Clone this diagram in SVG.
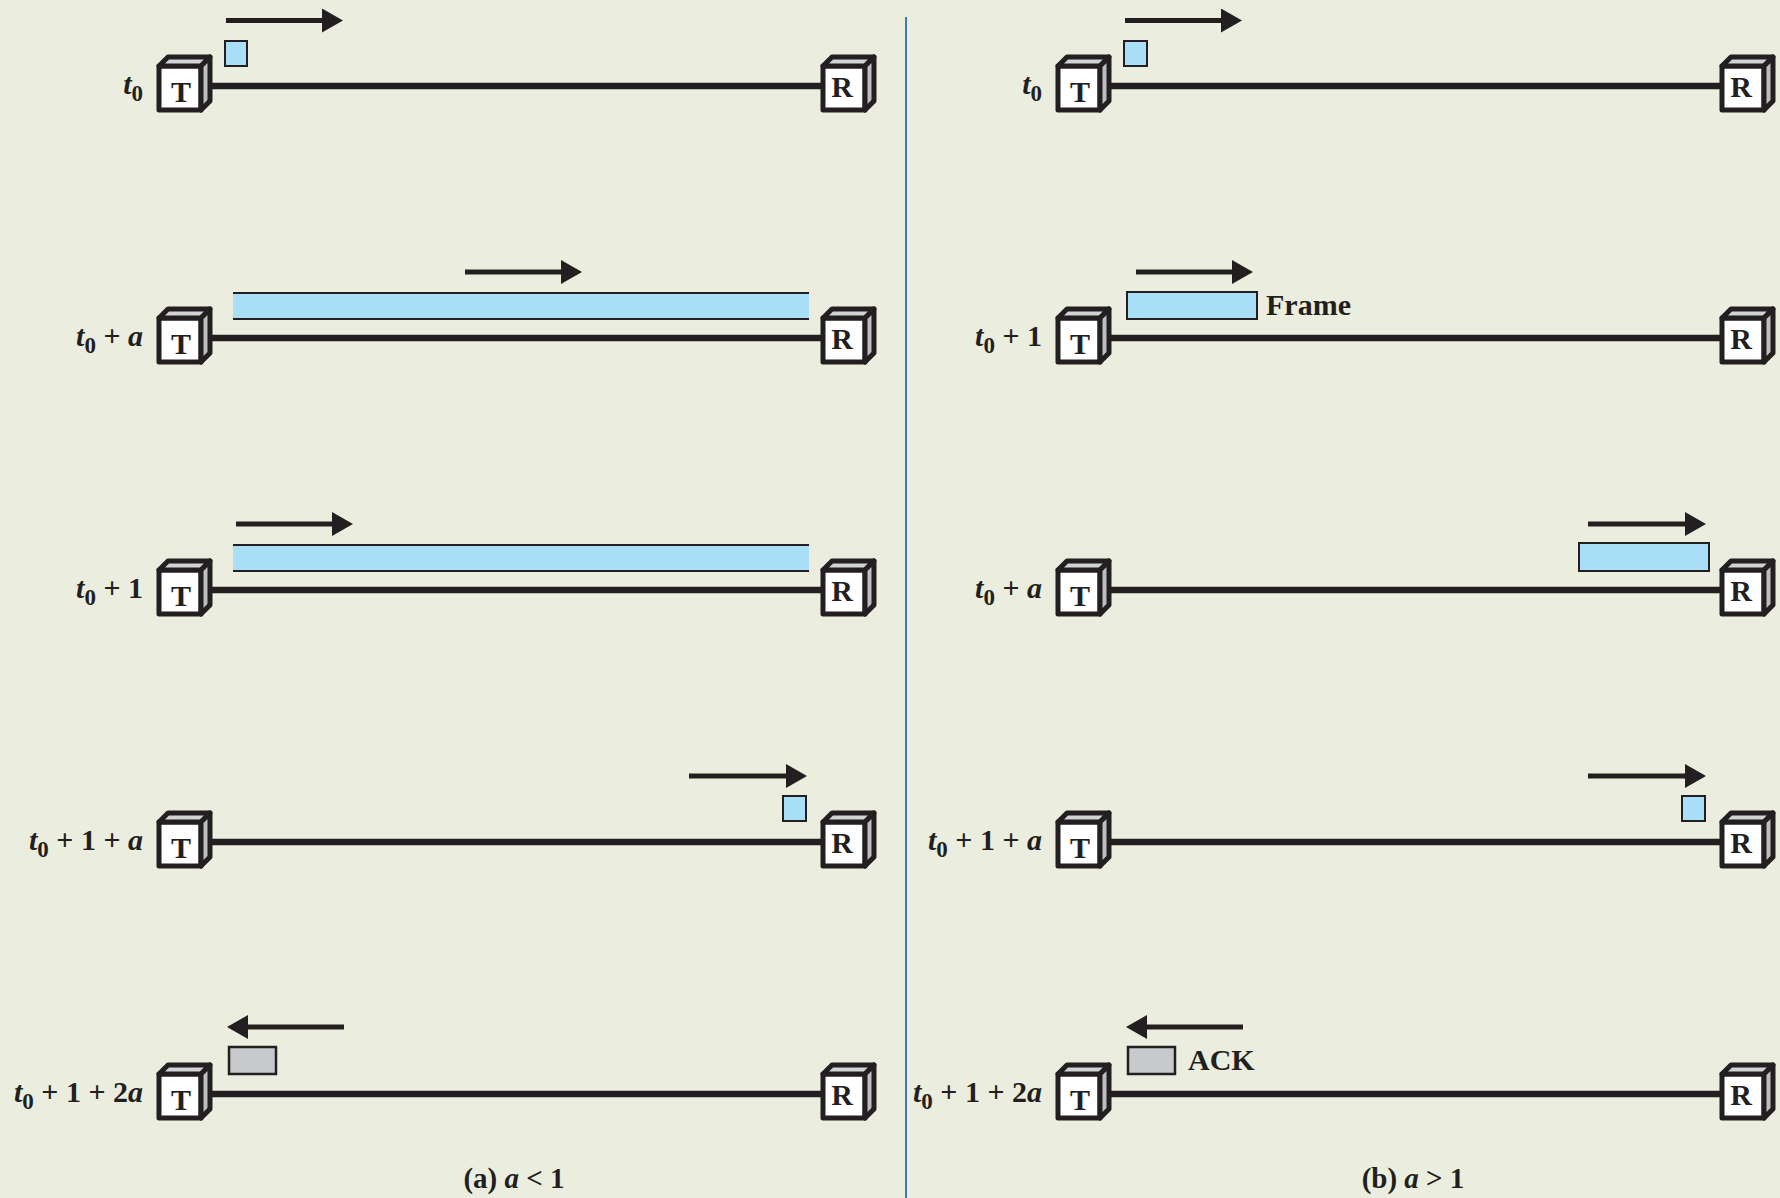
<svg xmlns="http://www.w3.org/2000/svg" width="1780" height="1198" viewBox="0 0 1780 1198">
<defs>
<style>
.bg{fill:#ebeedf}
.lnk{stroke:#231f20;stroke-width:6.5;fill:none}
.arr{stroke:#231f20;stroke-width:5;fill:none}
.front{fill:#ffffff;stroke:#231f20;stroke-width:5;stroke-linejoin:round}
.topf{fill:#d1d3d4;stroke:#231f20;stroke-width:5;stroke-linejoin:round}
.side{fill:#bcbec0;stroke:#231f20;stroke-width:5;stroke-linejoin:round}
.box{font-family:"Liberation Serif","Times New Roman",serif;font-weight:bold;font-size:30px;fill:#231f20;text-anchor:middle}
.lbl{font-family:"Liberation Serif","Times New Roman",serif;font-weight:bold;font-size:30px;fill:#231f20;text-anchor:end}
.cap{font-family:"Liberation Serif","Times New Roman",serif;font-weight:bold;font-size:29px;fill:#231f20;text-anchor:middle}
.tag{font-family:"Liberation Serif","Times New Roman",serif;font-weight:bold;font-size:30px;fill:#231f20}
.i{font-style:italic}
.sub{font-size:23px}
.fr{fill:#a8dff7;stroke:#231f20;stroke-width:2}
.frl{fill:#a8dff7}
.frb{stroke:#231f20;stroke-width:2;fill:none}
.ack{fill:#c8c9cb;stroke:#231f20;stroke-width:2.5}
</style>
<marker id="ah" markerUnits="userSpaceOnUse" markerWidth="21" markerHeight="24" refX="0" refY="12" orient="auto" viewBox="0 0 21 24">
<path d="M0,0 L21,12 L0,24 Z" fill="#231f20"/>
</marker>
<g id="cube">
<rect class="front" x="2" y="-20" width="42" height="44"/>
<path class="topf" d="M2,-20 L11,-29 L53,-29 L44,-20 Z"/>
<path class="side" d="M44,-20 L53,-29 L53,15 L44,24 Z"/>
</g>
</defs>
<rect class="bg" x="0" y="0" width="1780" height="1198"/>
<line x1="906" y1="17" x2="906" y2="1198" stroke="#3d7cc0" stroke-width="2"/>

<g id="connectors">
<line class="lnk" x1="208" y1="86" x2="823" y2="86"/>
<line class="lnk" x1="208" y1="338" x2="823" y2="338"/>
<line class="lnk" x1="208" y1="590" x2="823" y2="590"/>
<line class="lnk" x1="208" y1="842" x2="823" y2="842"/>
<line class="lnk" x1="208" y1="1094" x2="823" y2="1094"/>
<line class="lnk" x1="1107" y1="86" x2="1722" y2="86"/>
<line class="lnk" x1="1107" y1="338" x2="1722" y2="338"/>
<line class="lnk" x1="1107" y1="590" x2="1722" y2="590"/>
<line class="lnk" x1="1107" y1="842" x2="1722" y2="842"/>
<line class="lnk" x1="1107" y1="1094" x2="1722" y2="1094"/>
<line class="arr" x1="226" y1="20.5" x2="322" y2="20.5" marker-end="url(#ah)"/>
<line class="arr" x1="465" y1="272" x2="561" y2="272" marker-end="url(#ah)"/>
<line class="arr" x1="236" y1="524" x2="332" y2="524" marker-end="url(#ah)"/>
<line class="arr" x1="689" y1="776" x2="786" y2="776" marker-end="url(#ah)"/>
<line class="arr" x1="344" y1="1027" x2="248" y2="1027" marker-end="url(#ah)"/>
<line class="arr" x1="1125" y1="20.5" x2="1221" y2="20.5" marker-end="url(#ah)"/>
<line class="arr" x1="1136" y1="272" x2="1232" y2="272" marker-end="url(#ah)"/>
<line class="arr" x1="1588" y1="524" x2="1685" y2="524" marker-end="url(#ah)"/>
<line class="arr" x1="1588" y1="776" x2="1685" y2="776" marker-end="url(#ah)"/>
<line class="arr" x1="1243" y1="1027" x2="1147" y2="1027" marker-end="url(#ah)"/>
</g>

<g id="frames">
<rect class="fr" x="225" y="41" width="22" height="25"/>
<rect class="frl" x="233" y="292" width="576" height="28"/>
<path class="frb" d="M233,293 H809 M233,319 H809"/>
<rect class="frl" x="233" y="544" width="576" height="28"/>
<path class="frb" d="M233,545 H809 M233,571 H809"/>
<rect class="fr" x="783" y="796" width="23" height="25"/>
<rect class="ack" x="229" y="1047" width="47" height="27"/>
<rect class="fr" x="1124" y="41" width="23" height="25"/>
<rect class="fr" x="1127" y="292" width="130" height="27"/>
<text class="tag" x="1266" y="315">Frame</text>
<rect class="fr" x="1579" y="543" width="130" height="28"/>
<rect class="fr" x="1682" y="796" width="23" height="25"/>
<rect class="ack" x="1128" y="1047" width="47" height="27"/>
<text class="tag" x="1188" y="1070">ACK</text>
</g>

<g id="T-a1" transform="translate(157,86)"><use href="#cube"/><text class="box" x="24" y="16">T</text></g>
<g id="R-a1" transform="translate(821,86)"><use href="#cube"/><text class="box" x="21" y="11">R</text></g>
<g id="T-a2" transform="translate(157,338)"><use href="#cube"/><text class="box" x="24" y="16">T</text></g>
<g id="R-a2" transform="translate(821,338)"><use href="#cube"/><text class="box" x="21" y="11">R</text></g>
<g id="T-a3" transform="translate(157,590)"><use href="#cube"/><text class="box" x="24" y="16">T</text></g>
<g id="R-a3" transform="translate(821,590)"><use href="#cube"/><text class="box" x="21" y="11">R</text></g>
<g id="T-a4" transform="translate(157,842)"><use href="#cube"/><text class="box" x="24" y="16">T</text></g>
<g id="R-a4" transform="translate(821,842)"><use href="#cube"/><text class="box" x="21" y="11">R</text></g>
<g id="T-a5" transform="translate(157,1094)"><use href="#cube"/><text class="box" x="24" y="16">T</text></g>
<g id="R-a5" transform="translate(821,1094)"><use href="#cube"/><text class="box" x="21" y="11">R</text></g>

<g id="T-b1" transform="translate(1056,86)"><use href="#cube"/><text class="box" x="24" y="16">T</text></g>
<g id="R-b1" transform="translate(1720,86)"><use href="#cube"/><text class="box" x="21" y="11">R</text></g>
<g id="T-b2" transform="translate(1056,338)"><use href="#cube"/><text class="box" x="24" y="16">T</text></g>
<g id="R-b2" transform="translate(1720,338)"><use href="#cube"/><text class="box" x="21" y="11">R</text></g>
<g id="T-b3" transform="translate(1056,590)"><use href="#cube"/><text class="box" x="24" y="16">T</text></g>
<g id="R-b3" transform="translate(1720,590)"><use href="#cube"/><text class="box" x="21" y="11">R</text></g>
<g id="T-b4" transform="translate(1056,842)"><use href="#cube"/><text class="box" x="24" y="16">T</text></g>
<g id="R-b4" transform="translate(1720,842)"><use href="#cube"/><text class="box" x="21" y="11">R</text></g>
<g id="T-b5" transform="translate(1056,1094)"><use href="#cube"/><text class="box" x="24" y="16">T</text></g>
<g id="R-b5" transform="translate(1720,1094)"><use href="#cube"/><text class="box" x="21" y="11">R</text></g>

<g id="labels">
<text class="lbl" x="143" y="94"><tspan class="i">t</tspan><tspan class="sub" dy="7">0</tspan></text>
<text class="lbl" x="143" y="346"><tspan class="i">t</tspan><tspan class="sub" dy="7">0</tspan><tspan dy="-7"> + </tspan><tspan class="i">a</tspan></text>
<text class="lbl" x="143" y="598"><tspan class="i">t</tspan><tspan class="sub" dy="7">0</tspan><tspan dy="-7"> + 1</tspan></text>
<text class="lbl" x="143" y="850"><tspan class="i">t</tspan><tspan class="sub" dy="7">0</tspan><tspan dy="-7"> + 1 + </tspan><tspan class="i">a</tspan></text>
<text class="lbl" x="143" y="1102"><tspan class="i">t</tspan><tspan class="sub" dy="7">0</tspan><tspan dy="-7"> + 1 + 2</tspan><tspan class="i">a</tspan></text>
<text class="lbl" x="1042" y="94"><tspan class="i">t</tspan><tspan class="sub" dy="7">0</tspan></text>
<text class="lbl" x="1042" y="346"><tspan class="i">t</tspan><tspan class="sub" dy="7">0</tspan><tspan dy="-7"> + 1</tspan></text>
<text class="lbl" x="1042" y="598"><tspan class="i">t</tspan><tspan class="sub" dy="7">0</tspan><tspan dy="-7"> + </tspan><tspan class="i">a</tspan></text>
<text class="lbl" x="1042" y="850"><tspan class="i">t</tspan><tspan class="sub" dy="7">0</tspan><tspan dy="-7"> + 1 + </tspan><tspan class="i">a</tspan></text>
<text class="lbl" x="1042" y="1102"><tspan class="i">t</tspan><tspan class="sub" dy="7">0</tspan><tspan dy="-7"> + 1 + 2</tspan><tspan class="i">a</tspan></text>
<text class="cap" x="514" y="1188">(a) <tspan class="i">a</tspan> &lt; 1</text>
<text class="cap" x="1413" y="1188">(b) <tspan class="i">a</tspan> &gt; 1</text>
</g>
</svg>
